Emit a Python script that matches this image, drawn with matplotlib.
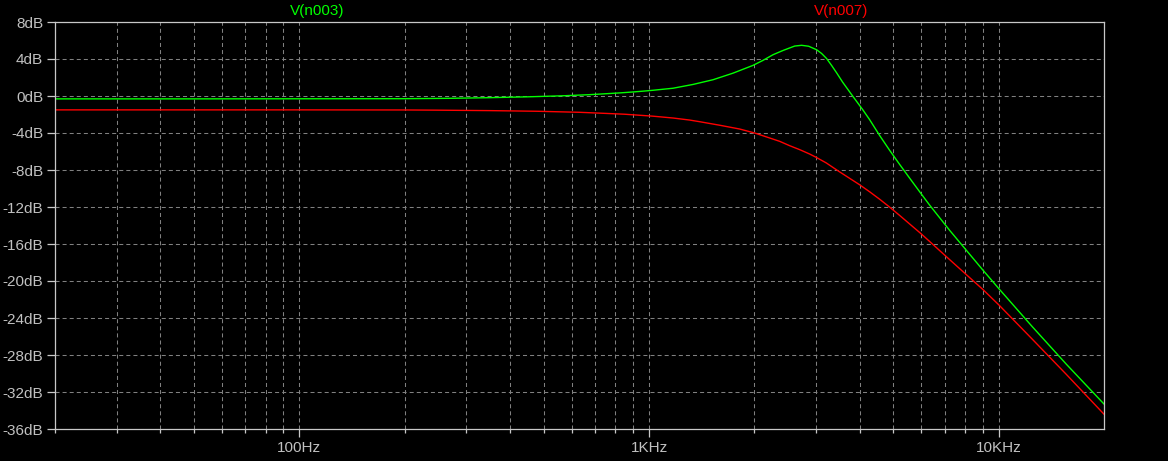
import matplotlib
matplotlib.use("Agg")
import matplotlib.pyplot as plt
from matplotlib.ticker import FixedLocator, NullFormatter

# ---- data (frequency in Hz, magnitude in dB) ----
green_freq = [20, 50, 100, 200, 271, 350, 449, 574, 672, 757, 836, 902, 966,
              1027, 1171, 1336, 1524, 1738, 1982, 2117, 2261, 2415, 2609,
              2730, 2860, 3014, 3114, 3219, 3327, 3439, 3577, 3827, 4087,
              4272, 4561, 4871, 5203, 5557, 5935, 6339, 7230, 9000, 10047,
              12480, 15610, 20000]
green_db = [-0.31, -0.31, -0.30, -0.29, -0.25, -0.18, -0.09, 0.03, 0.14,
            0.25, 0.35, 0.44, 0.53, 0.62, 0.84, 1.25, 1.76, 2.47, 3.31, 3.85,
            4.46, 4.92, 5.40, 5.48, 5.38, 5.00, 4.60, 4.05, 3.30, 2.50, 1.50,
            -0.04, -1.50, -2.55, -4.25, -5.85, -7.38, -8.86, -10.33, -11.78,
            -14.50, -18.80, -20.90, -24.95, -29.00, -33.30]

red_freq = [20, 50, 100, 200, 246, 350, 478, 630, 730, 851, 930, 1025, 1171,
            1306, 1396, 1592, 1816, 2004, 2213, 2363, 2523, 2696, 2878, 3008,
            3213, 3467, 3999, 4272, 4561, 4871, 5203, 6001, 7074, 8071, 9000,
            10047, 12480, 15610, 20000]
red_db = [-1.50, -1.50, -1.50, -1.51, -1.53, -1.58, -1.65, -1.76, -1.86,
          -1.97, -2.07, -2.18, -2.38, -2.60, -2.78, -3.16, -3.57, -4.00,
          -4.54, -4.90, -5.37, -5.80, -6.27, -6.64, -7.24, -8.08, -9.59,
          -10.35, -11.15, -12.00, -12.90, -14.90, -17.35, -19.30, -20.90,
          -22.65, -26.30, -30.10, -34.40]

y_ticks = list(range(-36, 9, 4))
y_tick_labels = [f"{v}dB" for v in y_ticks]
x_major = [100, 1000, 10000]
x_major_labels = ["100Hz", "1KHz", "10KHz"]
x_minor = [m * d for d in (10, 100, 1000) for m in range(2, 10)]

series_names = ["V(n003)", "V(n007)"]

# ---- styling ----
W, H = 1168, 461
plt.rcParams['font.family'] = ['Liberation Sans', 'DejaVu Sans']
plt.rcParams['lines.scale_dashes'] = False
TEXT = '#c0c0c0'
SPINE = '#c8c8c8'
GRID = '#808080'
GREEN = '#00ff00'
RED = '#ff0000'
FS = 11

fig = plt.figure(figsize=(W / 100, H / 100), dpi=100, facecolor='black')
L, R, T, B = 55, 1104, 22, 429
ax = fig.add_axes([L / W, (H - B) / H, (R - L) / W, (B - T) / H])
ax.set_facecolor('black')

ax.set_xscale('log')
ax.set_xlim(20, 20000)
ax.set_ylim(-36, 8)

ax.yaxis.set_major_locator(FixedLocator(y_ticks))
ax.set_yticklabels(y_tick_labels)
ax.xaxis.set_major_locator(FixedLocator(x_major))
ax.set_xticklabels(x_major_labels)
ax.xaxis.set_minor_locator(FixedLocator(x_minor))
ax.xaxis.set_minor_formatter(NullFormatter())
ax.yaxis.set_minor_locator(FixedLocator([]))

dash = (0, (2.9, 2.2))
ax.grid(True, which='major', axis='both', color=GRID, lw=0.75, linestyle=dash)
ax.grid(True, which='minor', axis='x', color=GRID, lw=0.75, linestyle=dash)
ax.set_axisbelow(True)

for s in ax.spines.values():
    s.set_color(SPINE)
    s.set_linewidth(0.9)

ax.tick_params(axis='both', which='major', colors=SPINE, labelcolor=TEXT,
               labelsize=FS, length=6, width=0.9)
ax.tick_params(axis='y', which='major', pad=2.5)
ax.tick_params(axis='x', which='major', pad=2.5)
ax.tick_params(axis='x', which='minor', colors=SPINE, length=3, width=0.9)

ax.plot(green_freq, green_db, color=GREEN, lw=1.0, solid_joinstyle='round')
ax.plot(red_freq, red_db, color=RED, lw=1.0, solid_joinstyle='round')

fig.text(317 / W, 1 - 11 / H, series_names[0], color=GREEN, fontsize=FS,
         ha='center', va='center')
fig.text(841 / W, 1 - 11 / H, series_names[1], color=RED, fontsize=FS,
         ha='center', va='center')

fig.savefig('out.png', dpi=100, facecolor='black')
